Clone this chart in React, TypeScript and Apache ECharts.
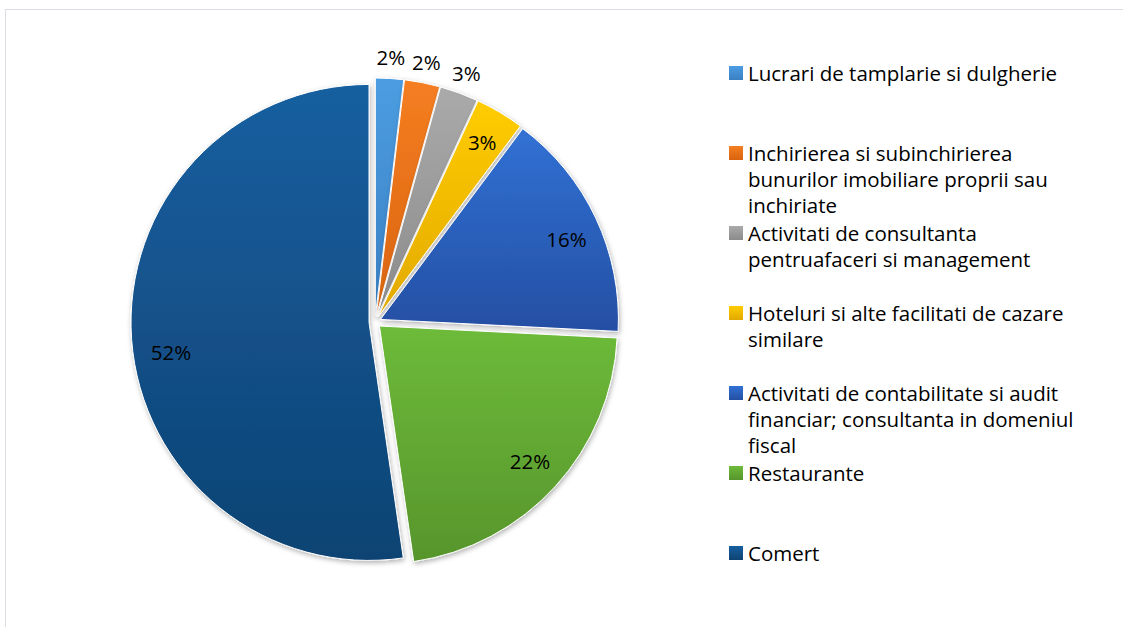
import React, { useEffect, useRef } from "react";
import * as echarts from "echarts";

const categories = [
  "Lucrari de tamplarie si dulgherie",
  "Inchirierea si subinchirierea bunurilor imobiliare proprii sau inchiriate",
  "Activitati de consultanta pentruafaceri si management",
  "Hoteluri si alte facilitati de cazare similare",
  "Activitati de contabilitate si audit financiar; consultanta in domeniul fiscal",
  "Restaurante",
  "Comert",
];
const values = [1.9, 2.4, 2.6, 3.3, 15.6, 21.9, 52.3];
const legendLabels = [
  "Lucrari de tamplarie si dulgherie",
  "Inchirierea si subinchirierea\nbunurilor imobiliare proprii sau\ninchiriate",
  "Activitati de consultanta\npentruafaceri si management",
  "Hoteluri si alte facilitati de cazare\nsimilare",
  "Activitati de contabilitate si audit\nfinanciar; consultanta in domeniul\nfiscal",
  "Restaurante",
  "Comert",
];
const outsideLabel = [true, true, true, false, false, false, false];

const colorTop = ["#4c9de2", "#f57e22", "#aaaaaa", "#ffcc00", "#3171d4", "#6dbb3a", "#175fa0"];
const colorBottom = ["#3a7fc2", "#d9640e", "#8b8b8b", "#e2a900", "#244fa3", "#57952c", "#0e4373"];
const labelNudge = [[0, 0], [0, 0], [0, 0], [0, 0], [2, 6], [0, -2], [5, 15]];

const grad = (i: number) =>
  new echarts.graphic.LinearGradient(0, 0, 0, 1, [
    { offset: 0, color: colorTop[i] },
    { offset: 1, color: colorBottom[i] },
  ]);

const FONT = "'Open Sans', 'Noto Sans', sans-serif";
const FS = 20.5;
const CENTER = [375, 322];
const R = 238;
const OFFSET = 6;
const LINE_STEP = 26;

export default function App() {
  const ref = useRef<HTMLDivElement>(null);
  useEffect(() => {
    if (!ref.current) return;
    const chart = echarts.init(ref.current, undefined, { renderer: "svg" });
    const fmt = (p: any) => Math.round(p.percent) + "%";
    const labelSeries = (radius: number[], showFn: (i: number) => boolean) => ({
      type: "pie",
      center: CENTER,
      radius,
      startAngle: 90,
      clockwise: true,
      selectedMode: "multiple",
      selectedOffset: OFFSET,
      silent: true,
      emphasis: { disabled: true },
      labelLine: { show: false },
      labelLayout: (p: any) => ({
        dx: labelNudge[p.dataIndex][0],
        dy: labelNudge[p.dataIndex][1],
      }),
      z: 5,
      data: categories.map((name, i) => ({
        name,
        value: values[i],
        selected: true,
        itemStyle: { color: "rgba(0,0,0,0)", borderWidth: 0 },
        label: {
          show: showFn(i),
          position: "inside",
          formatter: fmt,
          color: "#000",
          fontSize: FS,
          fontFamily: FONT,
        },
      })),
    });

    const legendGraphics: any[] = [];
    legendLabels.forEach((txt, i) => {
      const y = 73 + 80 * i;
      legendGraphics.push({
        type: "rect",
        shape: { x: 729, y: y - 7, width: 14, height: 14 },
        style: { fill: grad(i) },
      });
      txt.split("\n").forEach((line, j) => {
        legendGraphics.push({
          type: "text",
          x: 748,
          y: y + LINE_STEP * j,
          style: {
            text: line,
            fontSize: FS,
            fontFamily: FONT,
            lineHeight: 20,
            fill: "#000",
            verticalAlign: "middle",
            align: "left",
          },
        });
      });
    });

    chart.setOption({
      animation: false,
      backgroundColor: "#ffffff",
      graphic: [
        {
          type: "rect",
          shape: { x: 5.5, y: 9.5, width: 1300, height: 800 },
          style: { fill: "none", stroke: "#d9dce1", lineWidth: 1 },
          silent: true,
        },
        ...legendGraphics,
      ],
      series: [
        {
          type: "pie",
          center: CENTER,
          radius: [0, R],
          startAngle: 90,
          clockwise: true,
          selectedMode: "multiple",
          selectedOffset: OFFSET,
          silent: true,
          emphasis: { disabled: true },
          label: { show: false },
          labelLine: { show: false },
          data: categories.map((name, i) => ({
            name,
            value: values[i],
            selected: true,
            itemStyle: {
              color: grad(i),
              borderColor: "#ffffff",
              borderWidth: 1,
              shadowBlur: 5,
              shadowColor: "rgba(0,0,0,0.3)",
              shadowOffsetX: 1,
              shadowOffsetY: 2,
            },
          })),
        },
        labelSeries([240, 272], (i) => outsideLabel[i]),
        labelSeries([163, 238], (i) => !outsideLabel[i]),
      ],
    });
    return () => chart.dispose();
  }, []);
  return (
    <div
      ref={ref}
      style={{ position: "fixed", left: 0, top: 0, width: 1123, height: 627, background: "#fff" }}
    />
  );
}
